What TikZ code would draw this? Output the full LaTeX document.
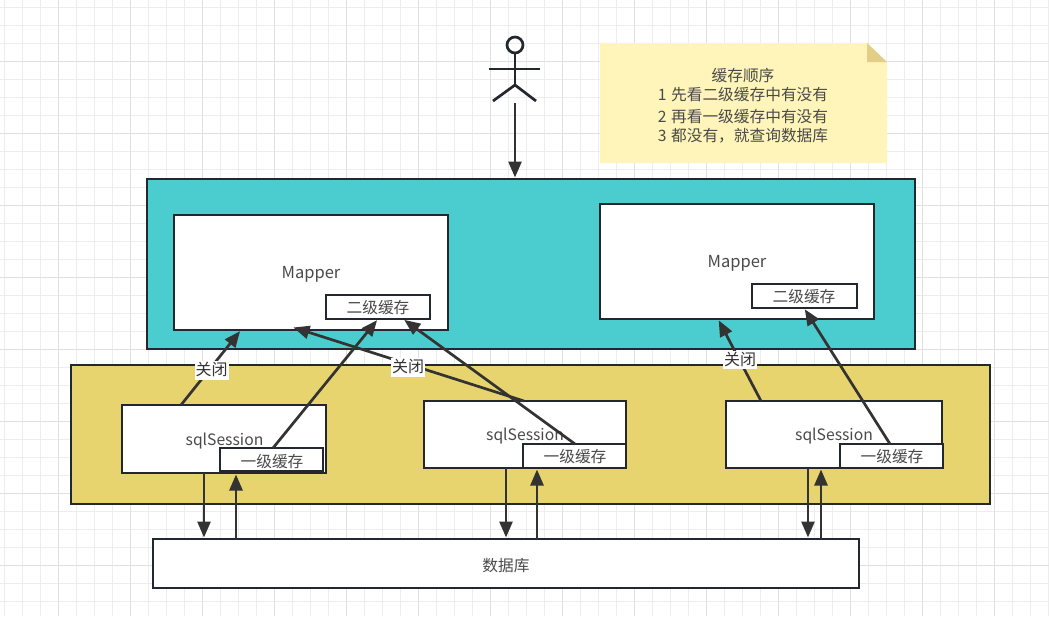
\documentclass[tikz,border=0pt]{standalone}
\usepackage{fontspec}
\setmainfont{Liberation Sans}
\newfontfamily\cjk{Noto Sans CJK SC}
\usetikzlibrary{arrows.meta}
\definecolor{ink}{HTML}{23282E}
\definecolor{txt}{HTML}{4A4A4A}
\definecolor{arrowink}{HTML}{333333}
\definecolor{tealfill}{RGB}{75,205,207}
\definecolor{yellowfill}{RGB}{232,212,110}
\definecolor{notefill}{RGB}{255,245,186}
\definecolor{foldfill}{RGB}{226,206,132}
\tikzset{
  box/.style={draw=ink,line width=2.7pt,fill=white,inner sep=0pt,outer sep=0pt,anchor=north west},
  lbl/.style={text=txt,font=\cjk\fontsize{15.7}{19}\selectfont,inner sep=0pt},
  link/.style={draw=arrowink,line width=2.7pt,-{Triangle[length=16pt,width=13pt]},shorten >=1.5pt},
  tag/.style={fill=white,text=arrowink,font=\cjk\fontsize{16}{19}\selectfont,inner xsep=1pt,inner ysep=1pt,text height=13.5pt,text depth=3pt},
  actor/.style={draw=ink,line width=2.7pt},
  minorgrid/.style={black!7,line width=1pt},
  majorgrid/.style={black!12,line width=1pt},
}
\begin{document}
\begin{tikzpicture}[x=1pt,y=-1pt]
\useasboundingbox (0,0) rectangle (1049,616);
\fill[white] (0,0) rectangle (1049,616);
% grid
\foreach \g in {0,...,58}{\draw[minorgrid] ({4.5+18*\g},0) -- ({4.5+18*\g},616);}
\foreach \g in {0,...,34}{\draw[minorgrid] (0,{7.5+18*\g}) -- (1049,{7.5+18*\g});}
\foreach \g in {0,...,14}{\draw[majorgrid] ({58.5+72*\g},0) -- ({58.5+72*\g},616);}
\foreach \g in {0,...,8}{\draw[majorgrid] (0,{61.5+72*\g}) -- (1049,{61.5+72*\g});}
% containers
\node[box,fill=tealfill,minimum width=768pt,minimum height=170pt] (tealbox) at (147,179) {};
\node[box,fill=yellowfill,minimum width=919pt,minimum height=139pt] (yellowbox) at (71,365) {};
% mappers
\node[box,minimum width=274pt,minimum height=115pt] (mapA) at (174,215) {};
\node[lbl,font=\cjk\fontsize{16.5}{19}\selectfont] (mapAt) at (311,274.5) {Mapper};
\node[box,minimum width=104pt,minimum height=24pt] (cacheA) at (326,295) {};
\node[lbl] (cacheAt) at (378,308) {二级缓存};
\node[box,minimum width=274pt,minimum height=115pt] (mapB) at (600,204) {};
\node[lbl,font=\cjk\fontsize{16.5}{19}\selectfont] (mapBt) at (737,263.5) {Mapper};
\node[box,minimum width=105pt,minimum height=24pt] (cacheB) at (752,284) {};
\node[lbl] (cacheBt) at (804,297) {二级缓存};
% sessions
\node[box,minimum width=204pt,minimum height=68pt] (sesA) at (122,405) {};
\node[lbl] (sesAt) at (224.5,441.5) {sqlSession};
\node[box,minimum width=103pt,minimum height=23pt] (lA) at (220,448) {};
\node[lbl] (lAt) at (272,461.5) {一级缓存};
\node[box,minimum width=202pt,minimum height=67pt] (sesB) at (424,401) {};
\node[lbl] (sesBt) at (525,436.5) {sqlSession};
\node[box,minimum width=103pt,minimum height=24pt] (lB) at (523,444) {};
\node[lbl] (lBt) at (575,457) {一级缓存};
\node[box,minimum width=216pt,minimum height=67pt] (sesC) at (726,401) {};
\node[lbl] (sesCt) at (834,436.5) {sqlSession};
\node[box,minimum width=103pt,minimum height=24pt] (lC) at (840,444) {};
\node[lbl] (lCt) at (892,457) {一级缓存};
% database
\node[box,minimum width=706pt,minimum height=49pt] (db) at (153,539) {};
\node[lbl] (dbt) at (506,566) {数据库};
% note
\fill[notefill] (600,43) -- (867,43) -- (887,63) -- (887,163) -- (600,163) -- cycle;
\fill[foldfill] (867,43) -- (887,62) -- (867,62) -- cycle;
\node[lbl,align=center,font=\cjk\fontsize{15.7}{19}\selectfont] (note) at (743,105.5) {缓存顺序\\1\hspace{4.5pt}先看二级缓存中有没有\\[2.5pt]2\hspace{4.5pt}再看一级缓存中有没有\\3\hspace{4.5pt}都没有，就查询数据库};
% actor
\node[draw=ink,line width=2.7pt,circle,minimum size=16pt,inner sep=0pt,outer sep=0pt] (head) at (515,45) {};
\coordinate (hip) at (515,85);
\coordinate (armL) at (489,69);
\coordinate (armR) at (540,69);
\coordinate (legL) at (493,101);
\coordinate (legR) at (536,101);
\draw[actor] (head.south) -- (hip);
\draw[actor] (armL) -- (armR);
\draw[actor] (legL) -- (hip) -- (legR);
% connectors
\coordinate (actorOut) at (515,103);
\draw[link] (actorOut) -- (actorOut |- tealbox.north);
\coordinate (x1a) at (181,0); \coordinate (x1b) at (241,0);
\draw[link] (x1a |- sesA.north) -- (x1b |- mapA.south);
\coordinate (x2a) at (273,0); \coordinate (x2b) at (378,0);
\draw[link] (x2a |- lA.north) -- (x2b |- cacheA.south);
\coordinate (x3a) at (524,0); \coordinate (mB) at (292,327);
\draw[link] (x3a |- sesB.north) -- (mB);
\coordinate (x4a) at (575,0); \coordinate (x4b) at (403,0);
\draw[link] (x4a |- lB.north) -- (x4b |- cacheA.south);
\coordinate (x5a) at (761,0); \coordinate (x5b) at (718,0);
\draw[link] (x5a |- sesC.north) -- (x5b |- mapB.south);
\coordinate (x6a) at (890,0); \coordinate (x6b) at (804,0);
\draw[link] (x6a |- lC.north) -- (x6b |- cacheB.south);
\node[tag] (t1) at (211.5,370.5) {关闭};
\node[tag] (t2) at (408,367.5) {关闭};
\node[tag] (t3) at (740,360) {关闭};
% db links
\coordinate (xa) at (204,0); \coordinate (xb) at (236,0);
\coordinate (xc) at (506,0); \coordinate (xd) at (537,0);
\coordinate (xe) at (808,0); \coordinate (xf) at (821,0);
\draw[link] (xa |- sesA.south) -- (xa |- db.north);
\draw[link] (xb |- db.north) -- (xb |- sesA.south);
\draw[link] (xc |- sesB.south) -- (xc |- db.north);
\draw[link] (xd |- db.north) -- (xd |- sesB.south);
\draw[link] (xe |- sesC.south) -- (xe |- db.north);
\draw[link] (xf |- db.north) -- (xf |- sesC.south);
\end{tikzpicture}
\end{document}
